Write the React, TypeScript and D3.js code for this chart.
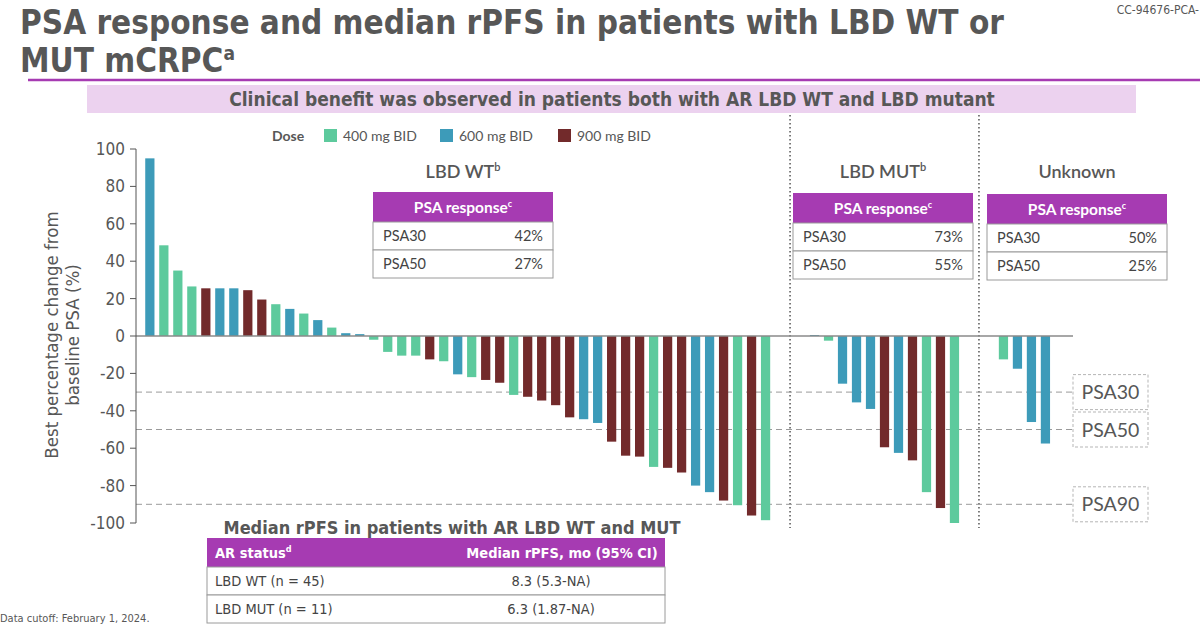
import * as d3 from "d3";

// dose colours
const doseKeys = [400, 600, 900];
const doseLabels = ["400 mg BID", "600 mg BID", "900 mg BID"];
const doseColors = ["#5dca9d", "#3d9bb9", "#722a2b"];

// best % change from baseline PSA, sorted within each AR LBD group
const wtChange = [
  95, 48.5, 35, 26.5, 25.5, 25.5, 25.5, 24.5, 19.5, 17, 14.5, 12, 8.5, 4.5, 1.5, 1,
  -2, -8.5, -10.5, -10.5, -12.5, -13.5, -20.5, -22, -23.5, -25, -31.5, -32.5, -34.5,
  -37, -43.5, -44.5, -46.5, -56.5, -64, -64.5, -70, -70.5, -73, -80, -83.5, -88,
  -90.5, -96, -98.5,
];
const wtDose = [
  600, 400, 400, 400, 900, 600, 600, 900, 900, 400, 600, 400, 600, 400, 600, 600,
  400, 400, 400, 400, 900, 400, 600, 400, 900, 900, 400, 900, 900,
  900, 900, 600, 600, 900, 900, 900, 400, 900, 900, 600, 600, 900,
  400, 900, 400,
];
const mutChange = [0.5, -2.5, -25.5, -35.5, -39, -59.5, -62.5, -66.5, -83.5, -92, -100];
const mutDose = [600, 400, 600, 600, 600, 900, 600, 900, 400, 900, 400];
const unkChange = [-12.5, -17.5, -46, -57.5];
const unkDose = [400, 600, 600, 600];

const groupNames = ["LBD WT", "LBD MUT", "Unknown"];
const groupSups = ["b", "b", ""];

const yTicks = [-100, -80, -60, -40, -20, 0, 20, 40, 60, 80, 100];
const thresholdLabels = ["PSA30", "PSA50", "PSA90"];
const thresholdValues = [-30, -50, -90];

// PSA response tables
const psaLevels = ["PSA30", "PSA50"];
const psaWt = ["42%", "27%"];
const psaMut = ["73%", "55%"];
const psaUnk = ["50%", "25%"];

// rPFS table
const rpfsStatus = ["LBD WT (n = 45)", "LBD MUT (n = 11)"];
const rpfsMedian = ["8.3 (5.3-NA)", "6.3 (1.87-NA)"];

const COND = "'DejaVu Sans Condensed', 'DejaVu Sans', sans-serif";
const LATO = "Lato, 'Open Sans', sans-serif";
const GREY = "#575757";
const PURPLE = "#a63bb2";
const GROUP_GAP = 3.5;

type Bar = { slot: number; value: number; dose: number };

function buildBars() {
  const groups = [
    { values: wtChange, doses: wtDose },
    { values: mutChange, doses: mutDose },
    { values: unkChange, doses: unkDose },
  ];
  const bars: Bar[] = [];
  const bounds: [number, number][] = [];
  let start = 0;
  groups.forEach((g) => {
    g.values.forEach((v, i) => bars.push({ slot: start + i, value: v, dose: g.doses[i] }));
    bounds.push([start, start + g.values.length - 1]);
    start = start + g.values.length - 1 + GROUP_GAP;
  });
  return { bars, bounds };
}

function PsaTable({ x, y, w, values }: { x: number; y: number; w: number; values: string[] }) {
  const head = 30;
  const row = 28;
  return (
    <g transform={`translate(${x},${y})`} fontFamily={LATO}>
      <rect width={w} height={head} fill={PURPLE} />
      <text x={w / 2} y={21} textAnchor="middle" fill="#fff" fontWeight={700} fontSize={15.5}>
        PSA response<tspan fontSize={9} dy={-6}>c</tspan>
      </text>
      {psaLevels.map((lvl, i) => (
        <g key={lvl} transform={`translate(0,${head + i * row})`}>
          <rect width={w} height={row} fill="#fff" stroke="#9a9a9a" strokeWidth={1} />
          <text x={10} y={19} fontSize={14.5} fill="#444">{lvl}</text>
          <text x={w - 10} y={19} fontSize={14.5} fill="#444" textAnchor="end">{values[i]}</text>
        </g>
      ))}
    </g>
  );
}

export default function App() {
  const { bars, bounds } = buildBars();

  const x = d3.scaleLinear().domain([-0.66, 66.3]).range([136, 1073]);
  const y = d3.scaleLinear().domain([-100, 100]).range([523, 149]);
  const step = x(1) - x(0);
  const bw = step * 0.66;
  const colorOf = d3.scaleOrdinal<number, string>().domain(doseKeys).range(doseColors);

  const separators = [0, 1].map((g) => (x(bounds[g][1]) + bw + x(bounds[g + 1][0])) / 2);
  const tableX = [373, 793, 987];
  const tableY = [192, 193, 194];
  const tableVals = [psaWt, psaMut, psaUnk];

  return (
    <svg width={1200} height={626} style={{ position: "absolute", left: 0, top: 0, background: "#fff" }}>
      {/* title */}
      <g fontFamily={COND} fontWeight={700} fill={GREY} fontSize={33}>
        <text x={20} y={34}>PSA response and median rPFS in patients with LBD WT or</text>
        <text x={20} y={72}>
          MUT mCRPC<tspan fontSize={19} dy={-12}>a</tspan>
        </text>
      </g>
      <text x={1199} y={14} textAnchor="end" fontFamily={COND} fontSize={12} fill={GREY}>CC-94676-PCA-</text>
      <line x1={28} x2={1200} y1={80} y2={80} stroke={PURPLE} strokeWidth={2.5} />

      <rect x={87} y={85} width={1049} height={28} fill="#ecd2ef" />
      <text x={612} y={106} textAnchor="middle" fontFamily={COND} fontWeight={700} fontSize={19} fill={GREY}>
        Clinical benefit was observed in patients both with AR LBD WT and LBD mutant
      </text>

      {/* legend */}
      <g fontFamily={LATO} fontSize={14} fill={GREY}>
        <text x={272} y={141} fontWeight={700}>Dose</text>
        {doseKeys.map((d, i) => {
          const lx = [324, 440, 558][i];
          return (
            <g key={d}>
              <rect x={lx} y={129} width={13} height={13} fill={colorOf(d)} />
              <text x={lx + 19} y={141}>{doseLabels[i]}</text>
            </g>
          );
        })}
      </g>

      {/* group separators */}
      {separators.map((sx, i) => (
        <line key={i} x1={sx} x2={sx} y1={115} y2={528} stroke="#555" strokeWidth={1.5} strokeDasharray="1.5,2.5" />
      ))}

      {/* threshold lines */}
      {thresholdValues.map((v, i) => (
        <g key={thresholdLabels[i]}>
          <line x1={136} x2={1073} y1={y(v)} y2={y(v)} stroke="#9a9a9a" strokeWidth={1} strokeDasharray="6,4" />
          <rect x={1073} y={y(v) - 17.5} width={75} height={35} fill="#fff" stroke="#b5b5b5" strokeDasharray="3,2" />
          <text x={1110.5} y={y(v) + 7} textAnchor="middle" fontFamily={LATO} fontSize={19.5} fill={GREY}>
            {thresholdLabels[i]}
          </text>
        </g>
      ))}

      {/* bars */}
      {bars.map((b, i) => {
        const y0 = y(0);
        const yv = y(b.value);
        return (
          <rect key={i} x={x(b.slot)} y={Math.min(y0, yv)} width={bw} height={Math.abs(yv - y0)} fill={colorOf(b.dose)} />
        );
      })}

      {/* zero line and y axis */}
      <line x1={136} x2={1073} y1={y(0)} y2={y(0)} stroke="#8a8a8a" strokeWidth={1.5} />
      <line x1={136} x2={136} y1={y(100)} y2={y(-100)} stroke="#555" strokeWidth={1} />
      {yTicks.map((t) => (
        <g key={t}>
          <line x1={130} x2={136} y1={y(t)} y2={y(t)} stroke="#555" strokeWidth={1} />
          <text x={125} y={y(t) + 6} textAnchor="end" fontFamily={COND} fontSize={17} fill={GREY}>
            {t}
          </text>
        </g>
      ))}
      <g transform={`translate(0,335) rotate(-90)`} fontFamily={COND} fontSize={18.5} fill={GREY} textAnchor="middle">
        <text x={0} y={58}>Best percentage change from</text>
        <text x={0} y={79}>baseline PSA (%)</text>
      </g>

      {/* group headings and PSA response tables */}
      {groupNames.map((name, i) => (
        <g key={name}>
          <text x={tableX[i] + 90} y={178} textAnchor="middle" fontFamily={LATO} fontWeight={600} fontSize={18} fill={GREY}>
            {name}
            {groupSups[i] && <tspan fontSize={11} dy={-7}>{groupSups[i]}</tspan>}
          </text>
          <PsaTable x={tableX[i]} y={tableY[i]} w={180} values={tableVals[i]} />
        </g>
      ))}

      {/* median rPFS table */}
      <text x={452} y={534} textAnchor="middle" fontFamily={COND} fontWeight={700} fontSize={18} fill={GREY}>
        Median rPFS in patients with AR LBD WT and MUT
      </text>
      <g fontFamily={COND} fontSize={14.5}>
        <rect x={207} y={538} width={458} height={29} fill={PURPLE} />
        <text x={215} y={558} fill="#fff" fontWeight={700}>
          AR status<tspan fontSize={9} dy={-6}>d</tspan>
        </text>
        <text x={562} y={558} fill="#fff" fontWeight={700} textAnchor="middle">Median rPFS, mo (95% CI)</text>
        {rpfsStatus.map((s, i) => (
          <g key={s} transform={`translate(207,${567 + i * 28})`}>
            <rect width={458} height={28} fill="#fff" stroke="#9a9a9a" />
            <text x={8} y={19} fill="#444">{s}</text>
            <text x={344} y={19} fill="#444" textAnchor="middle">{rpfsMedian[i]}</text>
          </g>
        ))}
      </g>

      <text x={0} y={622} fontFamily={COND} fontSize={11} fill={GREY}>Data cutoff: February 1, 2024.</text>
    </svg>
  );
}
